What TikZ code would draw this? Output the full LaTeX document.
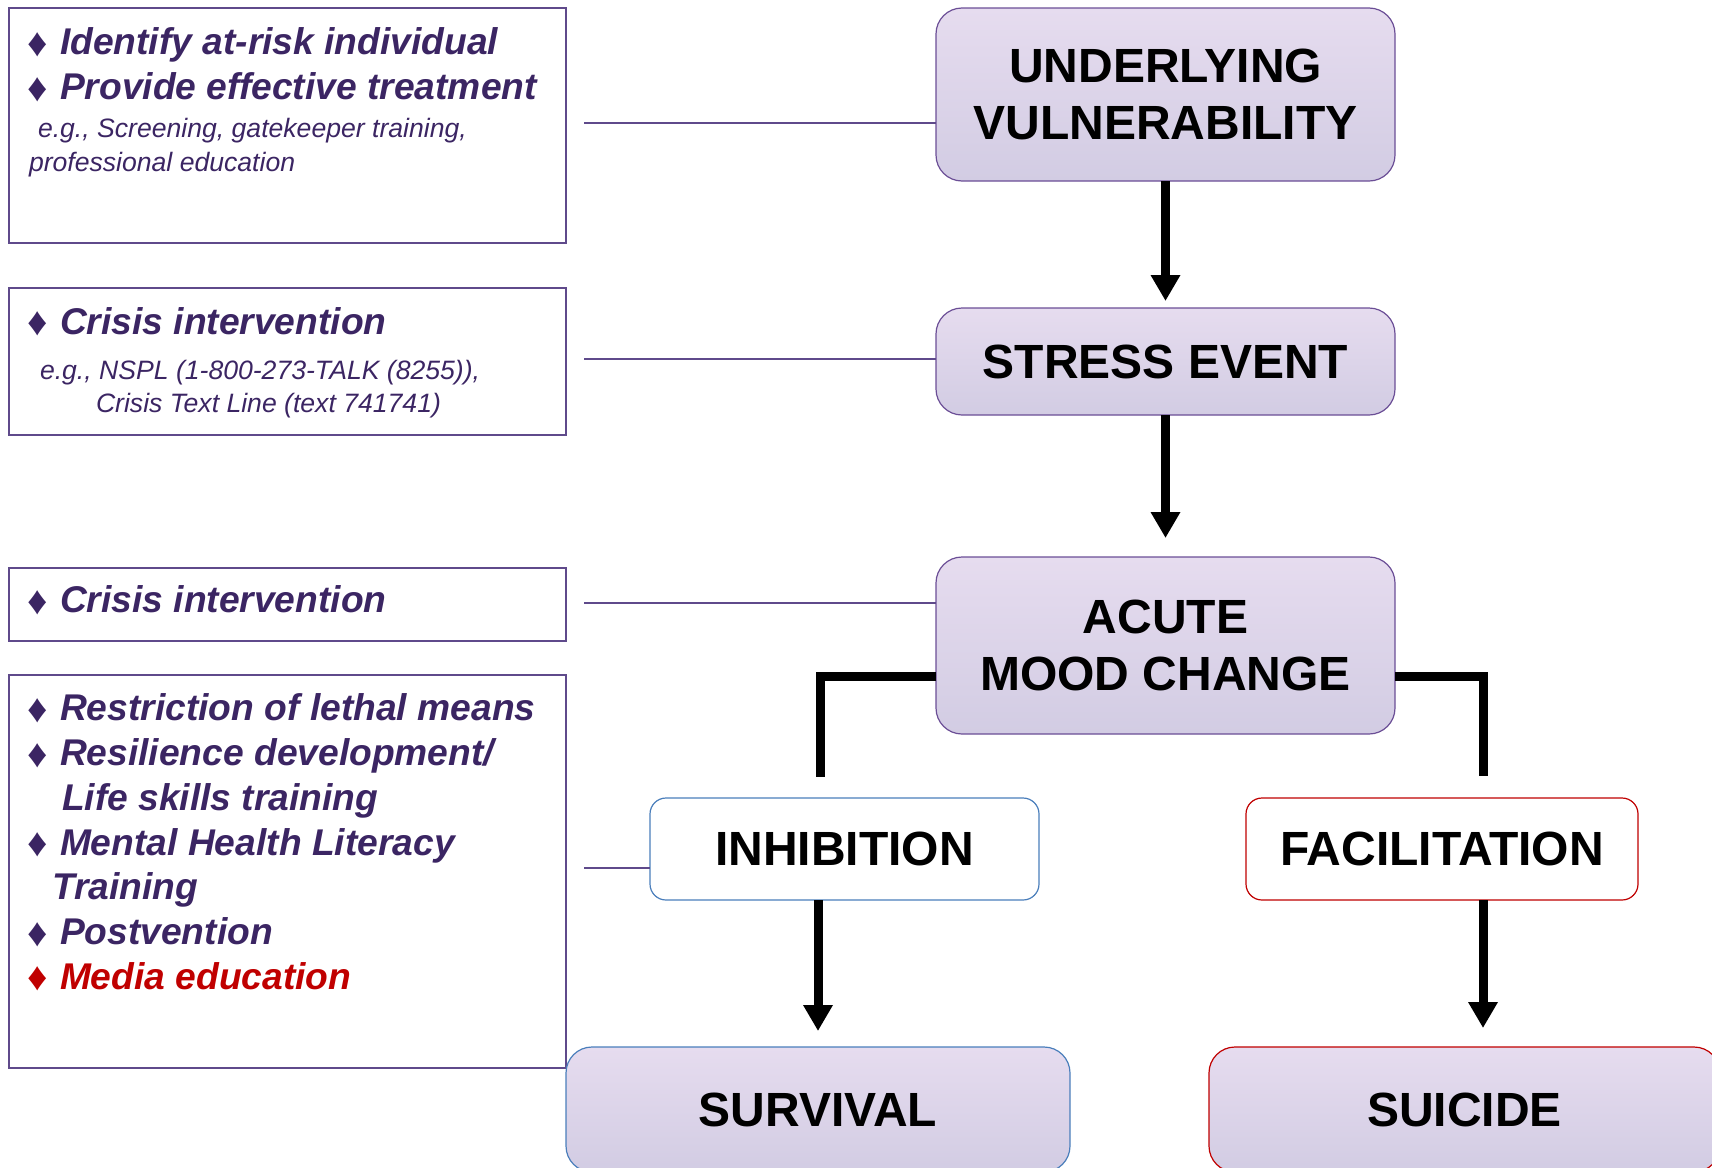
\documentclass[tikz,border=0pt]{standalone}
\usepackage{fontspec}
\setmainfont{Liberation Sans}
\usetikzlibrary{arrows.meta}
\definecolor{txtpurple}{HTML}{3B2563}
\definecolor{boxpurple}{HTML}{5F4A8B}
\definecolor{nodeborder}{HTML}{6B4E96}
\definecolor{filltop}{HTML}{E6DCEF}
\definecolor{fillbot}{HTML}{D2CCE3}
\definecolor{redc}{HTML}{C00000}
\definecolor{bluec}{HTML}{4A7EBB}
\newcommand{\dia}{\makebox[15.5pt][l]{\hspace{-0.8pt}\raisebox{-0.8pt}{\upshape\mdseries\fontsize{20}{20}\selectfont ♦}}}
\begin{document}
\begin{tikzpicture}[x=0.5pt,y=-0.5pt,
  every node/.style={inner sep=0pt, outer sep=0pt},
  sidebox/.style={draw=boxpurple, line width=1.1pt, rectangle, minimum width=278.5pt},
  flowbox/.style={draw=nodeborder, line width=0.6pt, rounded corners=13pt, top color=filltop, bottom color=fillbot,
     minimum width=229.5pt, align=center, font=\bfseries\fontsize{24}{28.8}\selectfont},
  midbox/.style={fill=white, line width=0.6pt, rounded corners=8pt, align=center, font=\bfseries\fontsize{24}{28.8}\selectfont},
  endbox/.style={line width=0.6pt, rounded corners=13pt, top color=filltop, bottom color=fillbot, align=center, font=\bfseries\fontsize{24}{28.8}\selectfont},
  item/.style={anchor=base west, text=txtpurple, font=\bfseries\itshape\fontsize{18.6}{22}\selectfont},
  small/.style={anchor=base west, text=txtpurple, font=\itshape\fontsize{13.3}{16}\selectfont},
  sideline/.style={draw=boxpurple, line width=1.1pt},
  arr/.style={draw=black, line width=4.5pt, -{Triangle[width=14pt,length=13pt]}},
  elbow/.style={draw=black, line width=4.5pt}
]
\clip (0,0) rectangle (1712,1167);
% side boxes
\node[sidebox, minimum height=117.5pt] (b1) at (287.5,125.5) {};
\node[sidebox, minimum height=73.5pt] (b2) at (287.5,361.5) {};
\node[sidebox, minimum height=36.5pt] (b3) at (287.5,604.5) {};
\node[sidebox, minimum height=196.5pt] (b4) at (287.5,871.5) {};
% side texts
\node[item] (t11) at (29,54.6) {\dia Identify at-risk individual};
\node[item] (t12) at (29,99.4) {\dia Provide effective treatment};
\node[small] (t13) at (38,137.6) {e.g., Screening, gatekeeper training,};
\node[small] (t14) at (29,171.4) {professional education};
\node[item] (t21) at (29,334) {\dia Crisis intervention};
\node[small] (t22) at (40,379) {e.g., NSPL (1-800-273-TALK (8255)),};
\node[small] (t23) at (96,412.7) {Crisis Text Line (text 741741)};
\node[item] (t31) at (29,612.5) {\dia Crisis intervention};
\node[item] (t41) at (29,720.6) {\dia Restriction of lethal means};
\node[item] (t42) at (29,765.4) {\dia Resilience development/};
\node[item] (t43) at (62,810) {Life skills training};
\node[item] (t44) at (29,855) {\dia Mental Health Literacy};
\node[item] (t45) at (52,899.6) {Training};
\node[item] (t46) at (29,944.4) {\dia Postvention};
\node[item, text=redc] (t47) at (29,989.2) {\dia Media education};
% flow nodes
\node[flowbox, minimum height=86.5pt] (uv) at (1165.5,94.5) {UNDERLYING\\VULNERABILITY};
\node[flowbox, minimum height=53.5pt] (se) at (1165.5,361.5) {STRESS EVENT};
\node[flowbox, minimum height=88.5pt] (amc) at (1165.5,645.5) {ACUTE\\MOOD CHANGE};
\node[midbox, draw=bluec, minimum width=194.5pt, minimum height=51pt] (inh) at (844.5,849) {INHIBITION};
\node[midbox, draw=redc, minimum width=196pt, minimum height=51pt] (fac) at (1442,849) {FACILITATION};
\node[endbox, draw=bluec, minimum width=252pt, minimum height=62.5pt] (sur) at (818,1109.5) {SURVIVAL};
\node[endbox, draw=redc, minimum width=255.5pt, minimum height=62.5pt] (sui) at (1464.5,1109.5) {SUICIDE};
% side connectors
\coordinate (c1) at (584,123);
\coordinate (c2) at (584,359);
\coordinate (c3) at (584,603);
\coordinate (c4) at (584,868);
\draw[sideline] (c1) -- (c1 -| uv.west);
\draw[sideline] (c2) -- (c2 -| se.west);
\draw[sideline] (c3) -- (c3 -| amc.west);
\draw[sideline] (c4) -- (c4 -| inh.west);
% flow arrows
\draw[arr, shorten >=3.5pt] (uv.south) -- (se.north);
\draw[arr, shorten >=9.5pt] (se.south) -- (amc.north);
\coordinate (eL) at (820.5,777);
\coordinate (eR) at (1483.5,776);
\draw[elbow] ([yshift=-15.25pt]amc.west) -| (eL);
\draw[elbow] ([yshift=-15.25pt]amc.east) -| (eR);
\draw[arr, shorten >=8pt] (inh.south -| sur.north) -- (sur.north);
\draw[arr, shorten >=9.5pt] ([xshift=20.5pt]fac.south) -- ([xshift=20.5pt]fac.south |- sui.north);
\end{tikzpicture}
\end{document}
